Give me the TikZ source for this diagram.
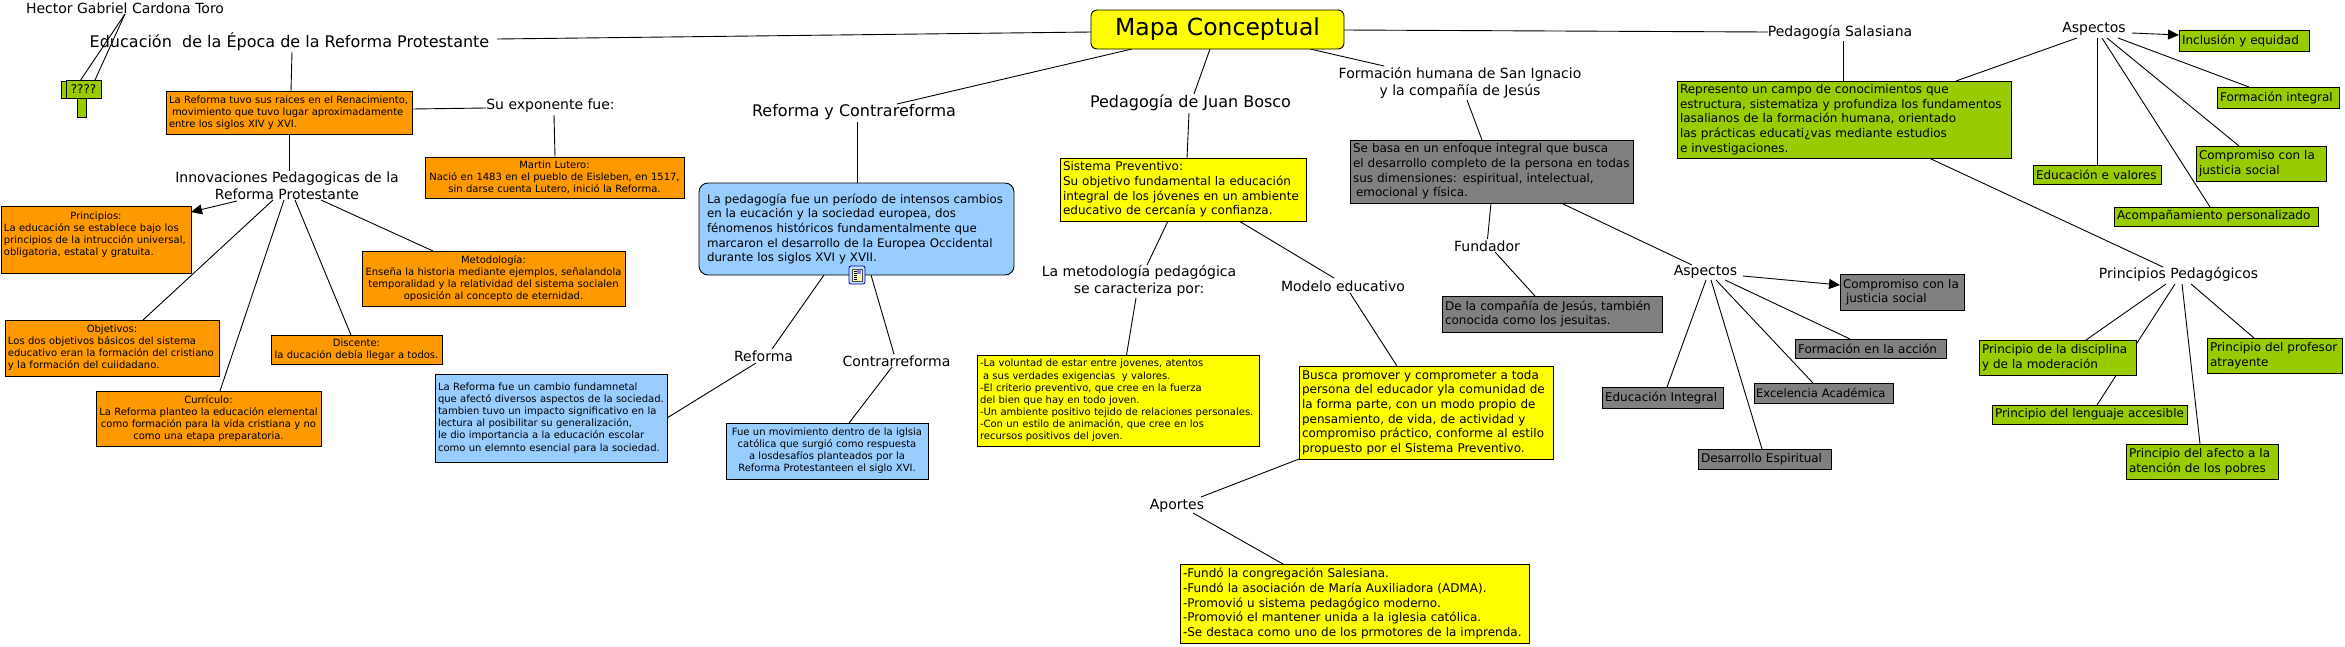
\documentclass[tikz,border=0pt]{standalone}
\usepackage{fontspec}
\setmainfont{DejaVu Sans}
\usepackage{xcolor}
\usepackage{tikz}
\usetikzlibrary{arrows.meta, backgrounds}
\definecolor{naranja}{HTML}{FF9900}
\definecolor{amarillo}{HTML}{FFFF00}
\definecolor{celeste}{HTML}{99CCFF}
\definecolor{verdeC}{HTML}{99CC00}
\definecolor{grisC}{HTML}{808080}
\newcommand{\encab}[1]{\makebox[\hsize]{#1}}
\tikzset{
  caja/.style   = {rectangle, draw=black, line width=0.9pt, anchor=north west, outer sep=0pt,
                   inner xsep=3pt, inner ysep=1pt, align=left},
  tam/.style 2 args = {text width=#1pt-6pt, minimum height=#2pt},
  boxO/.style   = {caja, fill=naranja, font=\fontsize{10}{12.1}\selectfont},
  boxY/.style   = {caja, fill=amarillo, font=\fontsize{12}{14.6}\selectfont},
  boxB/.style   = {caja, fill=celeste, font=\fontsize{10}{12.1}\selectfont},
  boxG/.style   = {caja, fill=verdeC, font=\fontsize{12}{14.6}\selectfont},
  boxK/.style   = {caja, fill=grisC, font=\fontsize{12}{14.6}\selectfont},
  etiq/.style   = {inner sep=0pt, align=center, font=\fontsize{14}{17}\selectfont},
  linea/.style  = {line width=0.9pt, black},
  arrow/.style  = {linea, ->, >={Stealth[length=11pt,width=10pt,inset=0pt]}},
}
\begin{document}
\begin{tikzpicture}[x=1pt,y=-1pt]
    \useasboundingbox (0,0) rectangle (2345,646);

    %% Main node
    \node[caja, fill=amarillo, rounded corners=6pt, tam={253}{39}, align=center,
          font=\fontsize{23.5}{28}\selectfont] (mapa) at (1091,10) {Mapa Conceptual};

    %% Left branch
    \node[etiq] (hector) at (125,8) {Hector Gabriel Cardona Toro};
    \node[etiq, font=\fontsize{16}{20}\selectfont] (titulo) at (289.5,42) {Educación\ \ de la Época de la Reforma Protestante};
    \node[caja, fill=verdeC, minimum width=35pt, minimum height=17pt] (preguntaB) at (61,81) {};
    \node[caja, fill=verdeC, minimum width=9pt, minimum height=19pt] (tallo) at (77,98) {};
    \node[caja, fill=verdeC, minimum width=35pt, minimum height=18pt, align=center, inner xsep=0pt,
          font=\fontsize{12}{14}\selectfont] (pregunta) at (66,80) {????};
    \node[boxO, tam={246}{43}] (reformaBox) at (166,91)
      {La Reforma tuvo sus raices en el Renacimiento,\\\hspace*{3pt}movimiento que tuvo lugar aproximadamente\\entre los siglos XIV y XVI.};
    \node[etiq] (exponente) at (550.5,106) {Su exponente fue:};
    \node[boxO, tam={259}{41}, align=center] (lutero) at (425,157)
      {Martin Lutero:\\Nació en 1483 en el pueblo de Eisleben, en 1517,\\sin darse cuenta Lutero, inició la Reforma.};
    \node[etiq] (innov) at (287,186) {Innovaciones Pedagogicas de la\\Reforma Protestante};
    \node[boxO, tam={190}{67}] (principios) at (1,206)
      {\encab{Principios:}\\La educación se establece bajo los\\principios de la intrucción universal,\\obligatoria, estatal y gratuita.\\~};
    \node[boxO, tam={263}{55}, align=center] (metodologia) at (362,251)
      {Metodología:\\Enseña la historia mediante ejemplos, señalandola\\temporalidad y la relatividad del sistema socialen\\oposición al concepto de eternidad.};
    \node[boxO, tam={214}{56}] (objetivos) at (5,320)
      {\encab{Objetivos:}\\Los dos objetivos básicos del sistema\\educativo eran la formación del cristiano\\y la formación del cuiidadano.};
    \node[boxO, tam={171}{29}, align=center] (discente) at (271,335)
      {Discente:\\la ducación debía llegar a todos.};
    \node[boxO, tam={225}{55}, align=center] (curriculo) at (96,391)
      {Currículo:\\La Reforma planteo la educación elemental\\como formación para la vida cristiana y no\\como una etapa preparatoria.};

    %% Reforma y Contrareforma
    \node[etiq, font=\fontsize{16}{18}\selectfont] (refcon) at (854,112) {Reforma y Contrareforma};
    \node[boxB, rounded corners=9pt, inner xsep=8pt, text width=299pt, minimum height=92pt,
          font=\fontsize{11.8}{14.6}\selectfont] (azul) at (699,183)
      {La pedagogía fue un período de intensos cambios\\en la eucación y la sociedad europea, dos\\fénomenos históricos fundamentalmente que\\marcaron el desarrollo de la Europea Occidental\\durante los siglos XVI y XVII.};
    \node[draw=blue!60!black, fill=celeste!60, rounded corners=2pt, line width=0.8pt, inner sep=0pt,
          minimum width=16pt, minimum height=18pt] (icono) at (857,275) {};
    \fill[yellow!30] (852,269) rectangle (862,281);
    \draw[black!70, line width=0.8pt] (852,269) rectangle (862,281);
    \fill[blue!50] (857,270) rectangle (861,274);
    \foreach \y in {271,273,275,277,279} { \draw[black, line width=0.6pt] (853.5,\y) -- (856.5,\y); }
    \node[etiq] (reformaL) at (763.5,356) {Reforma};
    \node[etiq] (contra) at (896.5,361) {Contrarreforma};
    \node[boxB, tam={232}{88}] (refBox) at (435,374)
      {La Reforma fue un cambio fundamnetal\\que afectó diversos aspectos de la sociedad.\\tambien tuvo un impacto significativo en la\\lectura al posibilitar su generalización,\\le dio importancia a la educación escolar\\como un elemnto esencial para la sociedad.};
    \node[boxB, tam={202}{56}, align=center] (fueBox) at (726,423)
      {Fue un movimiento dentro de la iglsia\\católica que surgió como respuesta\\a losdesafíos planteados por la\\Reforma Protestanteen el siglo XVI.};

    %% Juan Bosco
    \node[etiq, font=\fontsize{16}{18}\selectfont] (bosco) at (1190.5,103) {Pedagogía de Juan Bosco};
    \node[boxY, tam={246}{63}] (sistema) at (1060,158)
      {Sistema Preventivo:\\Su objetivo fundamental la educación\\integral de los jóvenes en un ambiente\\educativo de cercanía y confianza.};
    \node[etiq] (metod) at (1139,280.5) {La metodología pedagógica\\se caracteriza por:};
    \node[etiq] (modelo) at (1343,286) {Modelo educativo};
    \node[boxY, tam={282}{91}, font=\fontsize{10}{12.1}\selectfont] (voluntad) at (977,355)
      {-La voluntad de estar entre jovenes, atentos\\\hspace*{3pt}a sus verdades exigencias\ \ y valores.\\-El criterio preventivo, que cree en la fuerza\\del bien que hay en todo joven.\\-Un ambiente positivo tejido de relaciones personales.\\-Con un estilo de animación, que cree en los\\recursos positivos del joven.};
    \node[boxY, tam={254}{93}] (busca) at (1299,366)
      {Busca promover y comprometer a toda\\persona del educador yla comunidad de\\la forma parte, con un modo propio de\\pensamiento, de vida, de actividad y\\compromiso práctico, conforme al estilo\\propuesto por el Sistema Preventivo.};
    \node[etiq] (aportes) at (1177,506) {Aportes};
    \node[boxY, tam={349}{79}] (fundo) at (1180,564)
      {-Fundó la congregación Salesiana.\\-Fundó la asociación de María Auxiliadora (ADMA).\\-Promovió u sistema pedagógico moderno.\\-Promovió el mantener unida a la iglesia católica.\\-Se destaca como uno de los prmotores de la imprenda.};

    %% San Ignacio
    \node[etiq] (formacion) at (1460,82.5) {Formación humana de San Ignacio\\y la compañía de Jesús};
    \node[boxK, tam={283}{63}] (gris) at (1350,140)
      {Se basa en un enfoque integral que busca\\el desarrollo completo de la persona en todas\\sus dimensiones: espiritual, intelectual,\\\hspace*{3pt}emocional y física.};
    \node[etiq] (fundador) at (1487,246) {Fundador};
    \node[boxK, tam={220}{36}] (dela) at (1442,296) {De la compañía de Jesús, también\\conocida como los jesuitas.};
    \node[etiq] (aspG) at (1705.5,272) {Aspectos};
    \node[boxK, tam={124}{36}] (compG) at (1840,274) {Compromiso con la\\\hspace*{3pt}justicia social};
    \node[boxK, tam={151}{19}] (formacc) at (1795,339) {Formación en la acción};
    \node[boxK, inner xsep=2pt, text width=135pt, minimum height=20pt,
          font=\fontsize{11.6}{14}\selectfont] (excel) at (1754,383) {Excelencia Académica};
    \node[boxK, tam={133}{20}] (desarr) at (1698,449) {Desarrollo Espiritual};
    \node[boxK, tam={121}{21}] (eduint) at (1602,387) {Educación Integral};

    %% Salasiana
    \node[etiq] (salasiana) at (1840,32) {Pedagogía Salasiana};
    \node[boxG, tam={334}{77}] (verde) at (1677,81)
      {Represento un campo de conocimientos que\\estructura, sistematiza y profundiza los fundamentos\\lasalianos de la formación humana, orientado\\las prácticas educati¿vas mediante estudios\\e investigaciones.};
    \node[etiq] (aspV) at (2094,29) {Aspectos};
    \node[boxG, tam={130}{21}] (incl) at (2179,30) {Inclusión y equidad};
    \node[boxG, tam={122}{21}] (formint) at (2217,87) {Formación integral};
    \node[boxG, tam={130}{35}] (compV) at (2196,146) {Compromiso con la\\justicia social};
    \node[boxG, tam={204}{19}] (acomp) at (2114,207) {Acompañamiento personalizado};
    \node[boxG, tam={128}{19}] (eduval) at (2033,165) {Educación e valores};
    \node[etiq] (princ) at (2178.5,274) {Principios Pedagógicos};
    \node[boxG, tam={157}{35}] (disc) at (1979,340) {Principio de la disciplina\\y de la moderación};
    \node[boxG, tam={195}{19}] (leng) at (1992,405) {Principio del lenguaje accesible};
    \node[boxG, tam={152}{35}] (afecto) at (2126,444) {Principio del afecto a la\\atención de los pobres};
    \node[boxG, tam={135}{35}] (prof) at (2207,338) {Principio del profesor\\atrayente};

    %% Connectors
    \begin{scope}[on background layer]
      \draw[linea] ([shift={(0,6)}]hector.center) -- ([xshift=19pt]preguntaB.north west);
      \draw[linea] ([shift={(0,6)}]hector.center) -- ([xshift=29pt]pregunta.north west);
      \draw[linea] ([shift={(207.5,-3)}]titulo.center) -- ([shift={(0,22)}]mapa.north west);
      \draw[linea] ([shift={(0,20)}]mapa.north east) -- ([shift={(-72,0)}]salasiana.center);
      \draw[linea] ([xshift=41pt]mapa.south west) -- ([shift={(43,-8)}]refcon.center);
      \draw[linea] ([xshift=119pt]mapa.south west) -- ([shift={(3.5,-9)}]bosco.center);
      \draw[linea] ([xshift=219pt]mapa.south west) -- ([shift={(-76,-16.5)}]formacion.center);

      \draw[linea] ([shift={(2.5,10)}]titulo.center) -- ([xshift=125pt]reformaBox.north west);
      \draw[linea] ([shift={(0,18)}]reformaBox.north east) -- ([shift={(-64.5,2)}]exponente.center);
      \draw[linea] ([shift={(3.5,9)}]exponente.center) -- ([xshift=130pt]lutero.north west);
      \draw[linea] ([xshift=123pt]reformaBox.south west) -- ([shift={(2,-15)}]innov.center);
      \draw[arrow] ([shift={(-50,15)}]innov.center) -- ([shift={(0,6)}]principios.north east);
      \draw[linea] ([shift={(-14,14)}]innov.center) -- ([xshift=138pt]objetivos.north west);
      \draw[linea] ([shift={(-3,14)}]innov.center) -- ([xshift=124pt]curriculo.north west);
      \draw[linea] ([shift={(8,14)}]innov.center) -- ([xshift=80pt]discente.north west);
      \draw[linea] ([shift={(34,14)}]innov.center) -- ([xshift=71pt]metodologia.north west);

      \draw[linea] ([shift={(3,10)}]refcon.center) -- ([xshift=158pt]azul.north west);
      \draw[linea] ([xshift=125pt]azul.south west) -- ([shift={(8.5,-7)}]reformaL.center);
      \draw[linea] ([xshift=172pt]azul.south west) -- ([shift={(-2.5,-7)}]contra.center);
      \draw[linea] ([shift={(-7.5,7)}]reformaL.center) -- ([shift={(0,44)}]refBox.north east);
      \draw[linea] ([shift={(-4.5,6)}]contra.center) -- ([xshift=123pt]fueBox.north west);

      \draw[linea] ([shift={(-1.5,10)}]bosco.center) -- ([xshift=127pt]sistema.north west);
      \draw[linea] ([xshift=108pt]sistema.south west) -- ([shift={(8,-15.5)}]metod.center);
      \draw[linea] ([xshift=179pt]sistema.south west) -- ([shift={(-9,-8)}]modelo.center);
      \draw[linea] ([shift={(-3,17.5)}]metod.center) -- ([xshift=149.5pt]voluntad.north west);
      \draw[linea] ([shift={(7,7)}]modelo.center) -- ([xshift=98pt]busca.north west);
      \draw[linea] (busca.south west) -- ([shift={(24,-9)}]aportes.center);
      \draw[linea] ([shift={(16,7)}]aportes.center) -- ([xshift=103pt]fundo.north west);

      \draw[linea] ([shift={(7,17.5)}]formacion.center) -- ([xshift=132pt]gris.north west);
      \draw[linea] ([xshift=141pt]gris.south west) -- ([shift={(0.5,-7)}]fundador.center);
      \draw[linea] ([xshift=211pt]gris.south west) -- ([shift={(-13.5,-7)}]aspG.center);
      \draw[linea] ([shift={(8,6)}]fundador.center) -- ([xshift=93pt]dela.north west);
      \draw[arrow] ([shift={(37.5,4)}]aspG.center) -- ([shift={(0,11)}]compG.north west);
      \draw[linea] ([shift={(19.5,8)}]aspG.center) -- ([xshift=55pt]formacc.north west);
      \draw[linea] ([shift={(10.5,8)}]aspG.center) -- ([xshift=59pt]excel.north west);
      \draw[linea] ([shift={(5.5,8)}]aspG.center) -- ([xshift=64pt]desarr.north west);
      \draw[linea] ([shift={(0.5,8)}]aspG.center) -- ([xshift=65pt]eduint.north west);

      \draw[linea] ([shift={(3,9)}]salasiana.center) -- ([xshift=166pt]verde.north west);
      \draw[linea] ([xshift=279pt]verde.north west) -- ([shift={(-17,9)}]aspV.center);
      \draw[linea] ([xshift=252pt]verde.south west) -- ([shift={(-15.5,-7)}]princ.center);
      \draw[arrow] ([shift={(38,4)}]aspV.center) -- ([shift={(0,5)}]incl.north west);
      \draw[linea] ([shift={(24,9)}]aspV.center) -- ([xshift=32pt]formint.north west);
      \draw[linea] ([shift={(13,9)}]aspV.center) -- ([xshift=43pt]compV.north west);
      \draw[linea] ([shift={(8,9)}]aspV.center) -- ([xshift=96pt]acomp.north west);
      \draw[linea] ([shift={(3,9)}]aspV.center) -- ([xshift=64pt]eduval.north west);
      \draw[linea] ([shift={(-12.5,10)}]princ.center) -- ([xshift=107pt]disc.north west);
      \draw[linea] ([shift={(-3.5,10)}]princ.center) -- ([xshift=105pt]leng.north west);
      \draw[linea] ([shift={(3.5,10)}]princ.center) -- ([xshift=74pt]afecto.north west);
      \draw[linea] ([shift={(12.5,10)}]princ.center) -- ([xshift=47pt]prof.north west);
    \end{scope}
\end{tikzpicture}
\end{document}
